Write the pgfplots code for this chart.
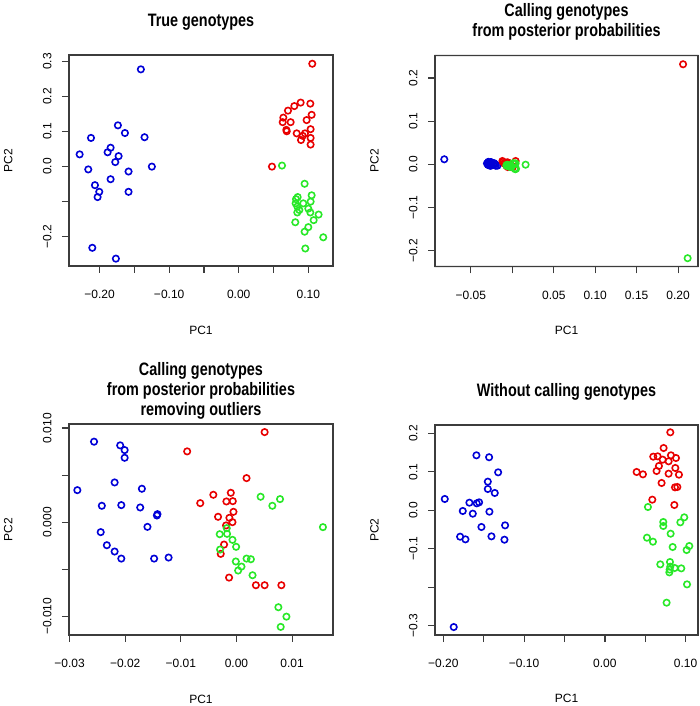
\documentclass[border=0pt]{standalone}
\usepackage{fontspec}
\setmainfont{Liberation Sans}
\usepackage{graphicx}
\usepackage{pgfplots}
\pgfplotsset{compat=1.18}
\usepackage{pgfplotstable}

\definecolor{rblue}{RGB}{0,0,215}
\definecolor{rred}{RGB}{232,0,0}
\definecolor{rgreen}{RGB}{40,232,40}
\definecolor{rframe}{RGB}{60,60,60}

% R's titles come out tall and narrow
\newcommand{\ttl}[1]{\scalebox{0.8}[1]{\begin{tabular}{@{}c@{}}#1\end{tabular}}}

% PC scores, one table per panel; g = b/r/g colour class
\pgfplotstableread{
x y g
-0.1407 0.278 b
-0.1737 0.118 b
-0.1636 0.096 b
-0.2124 0.082 b
-0.1354 0.084 b
-0.2287 0.035 b
-0.1842 0.054 b
-0.1885 0.041 b
-0.1727 0.030 b
-0.1775 0.013 b
-0.1249 0.000 b
-0.2163 -0.008 b
-0.1584 -0.014 b
-0.1842 -0.036 b
-0.2067 -0.053 b
-0.2005 -0.072 b
-0.2029 -0.087 b
-0.1584 -0.072 b
-0.2105 -0.232 b
-0.1766 -0.263 b
0.1057 0.294 r
0.0478 0.000 r
0.0890 0.183 r
0.1029 0.180 r
0.0799 0.173 r
0.0708 0.160 r
0.1048 0.148 r
0.0641 0.140 r
0.0976 0.133 r
0.0632 0.127 r
0.0746 0.127 r
0.0684 0.105 r
0.0690 0.101 r
0.1033 0.107 r
0.0833 0.095 r
0.0952 0.095 r
0.0919 0.088 r
0.1033 0.082 r
0.0895 0.076 r
0.1033 0.063 r
0.0622 0.003 g
0.0947 -0.049 g
0.1048 -0.082 g
0.0847 -0.087 g
0.0823 -0.093 g
0.1033 -0.100 g
0.0818 -0.105 g
0.0928 -0.105 g
0.0842 -0.114 g
0.1000 -0.120 g
0.0871 -0.124 g
0.1029 -0.131 g
0.0842 -0.131 g
0.1148 -0.137 g
0.1077 -0.153 g
0.0813 -0.159 g
0.1000 -0.173 g
0.0947 -0.186 g
0.1215 -0.202 g
0.0957 -0.234 g
}\truegeno

\pgfplotstableread{
x y g
-0.0821 0.012 b
-0.0290 0.0060 b
-0.0262 0.0055 b
-0.0254 0.0050 b
-0.0252 0.0040 b
-0.0268 0.0030 b
-0.0306 0.0025 b
-0.0220 0.0030 b
-0.0292 0.0015 b
-0.0262 0.0012 b
-0.0232 0.0010 b
-0.0210 0.0008 b
-0.0212 0.0005 b
-0.0228 -0.0003 b
-0.0294 -0.0008 b
-0.0282 -0.0018 b
-0.0268 -0.0025 b
-0.0260 -0.0030 b
-0.0200 -0.0030 b
-0.0180 -0.0028 b
-0.0120 0.0080 r
-0.0110 0.0060 r
-0.0060 0.0050 r
-0.0090 0.0035 r
-0.0050 0.0040 r
-0.0100 0.0025 r
-0.0060 0.0030 r
-0.0040 0.0030 r
-0.0040 0.0020 r
-0.0080 0.0010 r
-0.0050 0.0010 r
-0.0040 0.0000 r
-0.0060 -0.0005 r
-0.0065 -0.0025 r
-0.0070 -0.0035 r
-0.0055 -0.0060 r
-0.0010 -0.0060 r
0.0005 -0.0060 r
0.0040 0.0080 r
0.2060 0.232 r
0.0010 0.0030 g
0.0040 0.0025 g
0.0030 0.0015 g
0.0160 -0.0005 g
-0.0060 -0.0007 g
-0.0070 -0.0013 g
-0.0055 -0.0012 g
-0.0045 -0.0019 g
-0.0040 -0.0026 g
-0.0070 -0.0030 g
-0.0040 -0.0042 g
-0.0020 -0.0039 g
-0.0010 -0.0040 g
-0.0030 -0.0047 g
-0.0035 -0.0052 g
-0.0010 -0.0056 g
0.0030 -0.0090 g
0.0045 -0.0100 g
0.0035 -0.0110 g
0.2115 -0.217 g
}\calledall

\pgfplotstableread{
x y g
-0.0256 0.00855 b
-0.0209 0.00816 b
-0.0201 0.00766 b
-0.0201 0.00684 b
-0.0219 0.00422 b
-0.0286 0.00340 b
-0.0170 0.00355 b
-0.0242 0.00174 b
-0.0207 0.00181 b
-0.0173 0.00156 b
-0.0142 0.00085 b
-0.0143 0.00071 b
-0.0160 -0.00050 b
-0.0244 -0.00106 b
-0.0233 -0.00245 b
-0.0219 -0.00312 b
-0.0207 -0.00387 b
-0.0148 -0.00387 b
-0.0122 -0.00376 b
0.00506 0.00957 r
-0.00886 0.00752 r
0.00181 0.00468 r
-0.00416 0.00291 r
-0.00102 0.00312 r
-0.00651 0.00202 r
-0.00181 0.00220 r
-0.00066 0.00223 r
-0.00054 0.00110 r
-0.00331 0.00057 r
-0.00127 0.00046 r
-0.00072 0.00000 r
-0.00187 -0.00035 r
-0.00223 -0.00238 r
-0.00283 -0.00337 r
-0.00133 -0.00589 r
0.00349 -0.00670 r
0.00506 -0.00670 r
0.00807 -0.00670 r
0.00434 0.00270 g
0.00783 0.00245 g
0.00645 0.00174 g
0.01554 -0.00053 g
-0.00175 -0.00064 g
-0.00301 -0.00128 g
-0.00169 -0.00124 g
-0.00072 -0.00188 g
-0.00006 -0.00262 g
-0.00295 -0.00291 g
-0.00012 -0.00418 g
0.00181 -0.00387 g
0.00259 -0.00394 g
0.00090 -0.00472 g
0.00030 -0.00514 g
0.00289 -0.00564 g
0.00753 -0.00904 g
0.00898 -0.01004 g
0.00795 -0.01113 g
}\noout

\pgfplotstableread{
x y g
-0.1983 0.0295 b
-0.1872 -0.3033 b
-0.1591 0.1430 b
-0.1434 0.1380 b
-0.1322 0.0988 b
-0.1450 0.0745 b
-0.1450 0.0555 b
-0.1364 0.0451 b
-0.1678 0.0199 b
-0.1587 0.0182 b
-0.1558 0.0208 b
-0.1760 -0.0017 b
-0.1636 -0.0087 b
-0.1430 -0.0035 b
-0.1236 -0.0390 b
-0.1529 -0.0433 b
-0.1793 -0.0685 b
-0.1727 -0.0754 b
-0.1405 -0.0676 b
-0.1244 -0.0763 b
0.0810 0.2028 r
0.0727 0.1620 r
0.0599 0.1395 r
0.0653 0.1404 r
0.0818 0.1430 r
0.0715 0.1317 r
0.0789 0.1274 r
0.0880 0.1360 r
0.0669 0.1153 r
0.0872 0.1101 r
0.0393 0.0997 r
0.0471 0.0936 r
0.0640 0.1023 r
0.0789 0.0953 r
0.0917 0.0927 r
0.0702 0.0711 r
0.0868 0.0598 r
0.0897 0.0607 r
0.0587 0.0277 r
0.0860 0.0139 r
0.0533 0.0087 g
0.0983 -0.0182 g
0.0934 -0.0312 g
0.0723 -0.0303 g
0.0723 -0.0407 g
0.0814 -0.0607 g
0.0521 -0.0711 g
0.0595 -0.0815 g
0.0839 -0.0953 g
0.1045 -0.0927 g
0.1012 -0.1031 g
0.0686 -0.1404 g
0.0806 -0.1343 g
0.0810 -0.1464 g
0.0864 -0.1499 g
0.0946 -0.1508 g
0.0798 -0.1612 g
0.0802 -0.1540 g
0.1017 -0.1924 g
0.0764 -0.2400 g
}\nocall

\pgfplotsset{
  my xt/.initial={}, my yt/.initial={},
  pcaplot/.style={
    scale only axis, width=264bp, height=211bp,
    scaled ticks=false,
    axis on top,
    axis line style={draw=rframe, line width=1.2bp},
    tick pos=left, tick align=outside, major tick length=7bp,
    every tick/.append style={draw=rframe, line width=1.2bp},
    ticklabel style={font=\fontsize{12bp}{14bp}\selectfont},
    yticklabel style={rotate=90, anchor=south},
    xticklabel shift=14bp, yticklabel shift=7bp,
    label style={font=\fontsize{12bp}{14bp}\selectfont},
    xlabel={PC1}, ylabel={PC2},
    xlabel style={at={(axis description cs:0.5,-0.303)}, anchor=center},
    ylabel style={at={(axis description cs:-0.23,0.5)}, anchor=center},
    title style={at={(0.5,1)}, anchor=center, yshift=27bp,
      font=\bfseries\fontsize{18bp}{20bp}\selectfont},
    % R's box() and tick marks, as filled shapes
    extra description/.code={
      \fill[rframe, even odd rule]
        ([shift={(-0.6bp,-0.6bp)}]rel axis cs:0,0) rectangle ([shift={(0.6bp,0.6bp)}]rel axis cs:1,1)
        ([shift={(0.6bp,0.6bp)}]rel axis cs:0,0) rectangle ([shift={(-0.6bp,-0.6bp)}]rel axis cs:1,1);
      \coordinate (tB) at (rel axis cs:0,0);
      \edef\xtl{\pgfkeysvalueof{/pgfplots/my xt}}
      \edef\ytl{\pgfkeysvalueof{/pgfplots/my yt}}
      \foreach \t in \xtl {
        \coordinate (tA) at (axis cs:\t,0);
        \fill[rframe] (tA |- tB) ++(-0.6bp,0) rectangle +(1.2bp,-7bp);
      }
      \foreach \t in \ytl {
        \coordinate (tA) at (axis cs:0,\t);
        \fill[rframe] (tB |- tA) ++(0,-0.6bp) rectangle +(-7bp,1.2bp);
      }
    },
  },
  pts/.style={
    only marks,
    scatter, point meta=explicit symbolic,
    scatter/classes={
      b={mark=o, draw=rblue, line width=1.6bp},
      r={mark=o, draw=rred, line width=1.6bp},
      g={mark=o, draw=rgreen, line width=1.6bp}},
    mark size=3.2bp,
  },
}

\begin{document}
\begin{tikzpicture}
\path[use as bounding box] (0,0) rectangle (700bp,706bp);

\begin{axis}[pcaplot, at={(69bp,440bp)}, anchor=south west,
    title={\ttl{True genotypes}},
    xmin=-0.244, xmax=0.1355, ymin=-0.284, ymax=0.319,
    xtick={-0.20,-0.15,-0.10,-0.05,0,0.05,0.10},
    my xt={-0.20,-0.15,-0.10,-0.05,0,0.05,0.10},
    xticklabels={−0.20,,−0.10,,0.00,,0.10},
    ytick={-0.2,-0.1,0,0.1,0.2,0.3},
    my yt={-0.2,-0.1,0,0.1,0.2,0.3},
    yticklabels={−0.2,,0.0,0.1,0.2,0.3}]
\addplot[pts] table[x=x, y=y, meta=g] {\truegeno};
\end{axis}

\begin{axis}[pcaplot, at={(435bp,439.5bp)}, anchor=south west, width=263bp,
    title={\ttl{Calling genotypes\\from posterior probabilities}},
    xmin=-0.0933, xmax=0.224, ymin=-0.2362, ymax=0.2523,
    xtick={-0.05,0,0.05,0.10,0.15,0.20},
    my xt={-0.05,0,0.05,0.10,0.15,0.20},
    xticklabels={−0.05,,0.05,0.10,0.15,0.20},
    ytick={-0.2,-0.1,0,0.1,0.2},
    my yt={-0.2,-0.1,0,0.1,0.2},
    yticklabels={−0.2,−0.1,0.0,0.1,0.2}]
\addplot[pts] table[x=x, y=y, meta=g] {\calledall};
\end{axis}

\begin{axis}[pcaplot, at={(69bp,71bp)}, anchor=south west,
    title={\ttl{Calling genotypes\\from posterior probabilities\\removing outliers}},
    xmin=-0.0301, xmax=0.01735, ymin=-0.01199, ymax=0.01043,
    xtick={-0.03,-0.02,-0.01,0,0.01},
    my xt={-0.03,-0.02,-0.01,0,0.01},
    xticklabels={−0.03,−0.02,−0.01,0.00,0.01},
    ytick={-0.01,-0.005,0,0.005,0.01},
    my yt={-0.01,-0.005,0,0.005,0.01},
    yticklabels={−0.010,,0.000,,0.010}]
\addplot[pts] table[x=x, y=y, meta=g] {\noout};
\end{axis}

\begin{axis}[pcaplot, at={(435bp,71bp)}, anchor=south west, width=263bp, height=210bp,
    title={\ttl{Without calling genotypes}},
    xmin=-0.2104, xmax=0.1153, ymin=-0.324, ymax=0.2218,
    xtick={-0.20,-0.15,-0.10,-0.05,0,0.05,0.10},
    my xt={-0.20,-0.15,-0.10,-0.05,0,0.05,0.10},
    xticklabels={−0.20,,−0.10,,0.00,,0.10},
    ytick={-0.3,-0.2,-0.1,0,0.1,0.2},
    my yt={-0.3,-0.2,-0.1,0,0.1,0.2},
    yticklabels={−0.3,,−0.1,0.0,0.1,0.2}]
\addplot[pts] table[x=x, y=y, meta=g] {\nocall};
\end{axis}
\end{tikzpicture}
\end{document}
